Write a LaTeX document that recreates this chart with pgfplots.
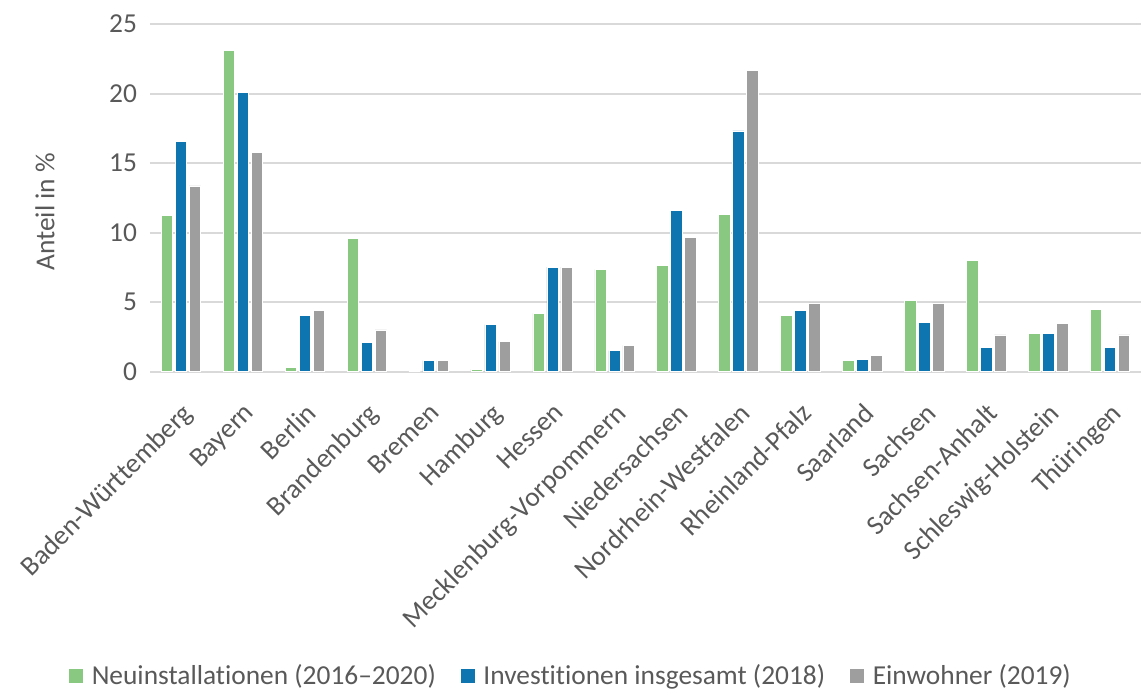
\documentclass[border=0pt]{standalone}
\usepackage{fontspec}
\setmainfont{Carlito}[Ligatures={NoCommon}]
\usepackage{pgfplots}
\pgfplotsset{compat=1.18}
\definecolor{cg}{HTML}{88C880}
\definecolor{cb}{HTML}{0E75B0}
\definecolor{cgr}{HTML}{9E9E9E}
\definecolor{txt}{HTML}{595959}
\definecolor{grd}{HTML}{D9D9D9}
\begin{document}
\begin{tikzpicture}
\path[use as bounding box] (-75pt,-159.65pt) rectangle (495.5pt,185.85pt);
\begin{axis}[
  scale only axis, width=495.5pt, height=173.85pt,
  xmin=-0.5, xmax=15.5, ymin=0, ymax=25,
  ytick={0,5,...,25},
  ymajorgrids, grid style={grd, line width=1pt},
  axis line style={draw=none}, major tick length=0pt,
  xtick={0,...,15},
  xticklabels={Baden-Württemberg,Bayern,Berlin,Brandenburg,Bremen,Hamburg,Hessen,Mecklenburg-Vorpommern,Niedersachsen,Nordrhein-Westfalen,Rheinland-Pfalz,Saarland,Sachsen,Sachsen-Anhalt,Schleswig-Holstein,Thüringen},
  font=\fontsize{13.7}{16.5}\selectfont,
  tick label style={text=txt},
  /pgf/number format/assume math mode=true,
  yticklabel style={xshift=-3pt},
  xticklabel style={rotate=45, anchor=north east, inner sep=1pt, xshift=-9.5pt, yshift=-9.2pt},
  ylabel={Anteil in \%},
  ylabel style={at={(axis description cs:-0.106,0.46)}, anchor=center, text=txt},
  legend columns=3,
  legend style={at={(axis description cs:0.4243,-0.874)}, anchor=center, draw=none, fill=none, text=txt, font=\fontsize{13.7}{16.5}\selectfont,
    nodes={inner sep=1pt},
    /tikz/every odd column/.append style={column sep=3pt},
    /tikz/every even column/.append style={column sep=11pt}},
  legend image code/.code={\fill[#1] (0pt,-3.75pt) rectangle (7.5pt,3.75pt);},
]
\addplot[ybar, bar width=0.185, bar shift=-0.226, fill=cg, draw=white, line width=0.3pt] coordinates {
(0,11.22) (1,23.13) (2,0.32) (3,9.56) (4,0) (5,0.16) (6,4.2) (7,7.35) (8,7.62) (9,11.31) (10,4.04) (11,0.8) (12,5.12) (13,8.02) (14,2.74) (15,4.5)};
\addlegendentry{Neuinstallationen (2016–2020)}
\addplot[ybar, bar width=0.185, bar shift=0, fill=cb, draw=white, line width=0.3pt] coordinates {
(0,16.57) (1,20.1) (2,4.04) (3,2.09) (4,0.8) (5,3.39) (6,7.52) (7,1.52) (8,11.6) (9,17.32) (10,4.4) (11,0.89) (12,3.56) (13,1.73) (14,2.74) (15,1.73)};
\addlegendentry{Investitionen insgesamt (2018)}
\addplot[ybar, bar width=0.185, bar shift=0.226, fill=cgr, draw=white, line width=0.3pt] coordinates {
(0,13.36) (1,15.76) (2,4.4) (3,3.0) (4,0.8) (5,2.17) (6,7.52) (7,1.9) (8,9.66) (9,21.66) (10,4.95) (11,1.18) (12,4.95) (13,2.64) (14,3.49) (15,2.64)};
\addlegendentry{Einwohner (2019)}
\end{axis}
\end{tikzpicture}
\end{document}
